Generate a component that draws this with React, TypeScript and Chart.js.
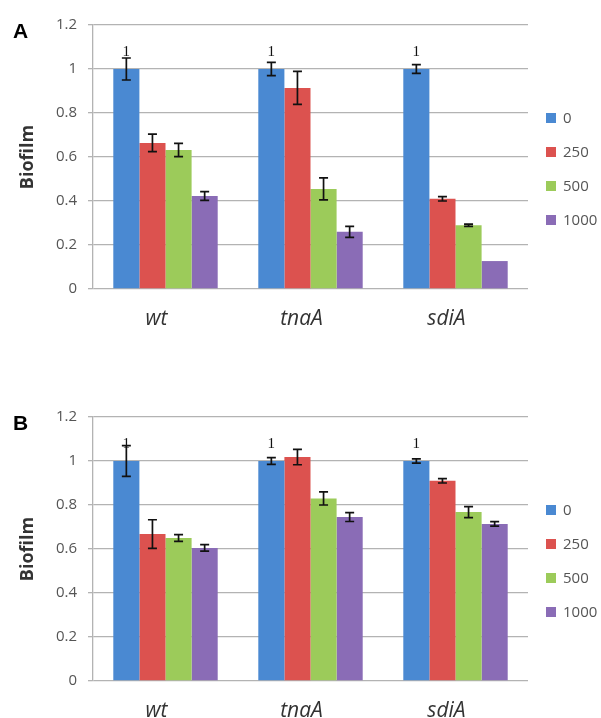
import React, { useEffect, useRef } from "react";
import { Chart, registerables } from "chart.js";

Chart.register(...registerables);

const categories = ["wt", "tnaA", "sdiA"];
const seriesLabels = ["0", "250", "500", "1000"];
const seriesColors = ["#4a89d2", "#dc524f", "#9ccb5a", "#8a6cb6"];
const yTicks = [0, 0.2, 0.4, 0.6, 0.8, 1, 1.2];

// Panel A values
const a0 = [1, 1, 1];
const a250 = [0.664, 0.914, 0.41];
const a500 = [0.632, 0.455, 0.29];
const a1000 = [0.423, 0.26, 0.127];
// Panel A error bars
const aErr0 = [0.05, 0.03, 0.02];
const aErr250 = [0.04, 0.075, 0.01];
const aErr500 = [0.03, 0.05, 0.005];
const aErr1000 = [0.02, 0.025, 0];

// Panel B values
const b0 = [1, 1, 1];
const b250 = [0.668, 1.018, 0.91];
const b500 = [0.65, 0.83, 0.768];
const b1000 = [0.605, 0.745, 0.714];
// Panel B error bars
const bErr0 = [0.07, 0.015, 0.01];
const bErr250 = [0.065, 0.035, 0.01];
const bErr500 = [0.015, 0.03, 0.025];
const bErr1000 = [0.015, 0.02, 0.01];

const FONT = "'Open Sans', 'Noto Sans', sans-serif";
const GRID = "#b3b3b3";

function makePlugins(letter: string, errors: number[][]) {
  const errorBars = {
    id: "errorBars",
    afterDatasetsDraw(chart: any) {
      const ctx = chart.ctx;
      const y = chart.scales.y;
      ctx.save();
      ctx.strokeStyle = "#111";
      ctx.lineWidth = 1.7;
      chart.data.datasets.forEach((ds: any, i: number) => {
        const meta = chart.getDatasetMeta(i);
        meta.data.forEach((bar: any, j: number) => {
          const v = ds.data[j];
          const e = errors[i][j];
          if (!e) return;
          const top = y.getPixelForValue(v + e);
          const bot = y.getPixelForValue(v - e);
          const x = bar.x;
          const cap = 4.5;
          ctx.beginPath();
          ctx.moveTo(x, top);
          ctx.lineTo(x, bot);
          ctx.moveTo(x - cap, top);
          ctx.lineTo(x + cap, top);
          ctx.moveTo(x - cap, bot);
          ctx.lineTo(x + cap, bot);
          ctx.stroke();
        });
      });
      // data labels on the first series
      const meta0 = chart.getDatasetMeta(0);
      ctx.fillStyle = "#111";
      ctx.font = "15px 'Liberation Serif', serif";
      ctx.textAlign = "center";
      ctx.textBaseline = "middle";
      meta0.data.forEach((bar: any, j: number) => {
        ctx.fillText(String(chart.data.datasets[0].data[j]), bar.x, bar.y - 17);
      });
      ctx.restore();
    },
  };
  const legendAndLetter = {
    id: "legendAndLetter",
    afterDraw(chart: any) {
      const ctx = chart.ctx;
      const area = chart.chartArea;
      ctx.save();
      // panel letter
      ctx.fillStyle = "#000";
      ctx.font = "bold 21px 'Liberation Sans', Arial, sans-serif";
      ctx.textAlign = "left";
      ctx.textBaseline = "middle";
      ctx.fillText(letter, 13, 32);
      // legend
      const x0 = area.right + 18;
      const yStart = 118;
      const step = 34;
      ctx.font = `15px ${FONT}`;
      chart.data.datasets.forEach((ds: any, i: number) => {
        const yy = yStart + i * step;
        ctx.fillStyle = ds.backgroundColor;
        ctx.fillRect(x0, yy - 5, 10, 10);
        ctx.fillStyle = "#555";
        ctx.fillText(ds.label, x0 + 17, yy + 1);
      });
      ctx.restore();
    },
  };
  return [errorBars, legendAndLetter];
}

function Panel(props: {
  letter: string;
  values: number[][];
  errors: number[][];
  height: number;
  top: number;
}) {
  const ref = useRef<HTMLCanvasElement | null>(null);
  useEffect(() => {
    if (!ref.current) return;
    const xAxisHeight = props.height - 289;
    const chart = new Chart(ref.current, {
      type: "bar",
      data: {
        labels: categories,
        datasets: seriesLabels.map((lab, i) => ({
          label: lab,
          data: props.values[i],
          backgroundColor: seriesColors[i],
          borderWidth: 0,
          categoryPercentage: 0.72,
          barPercentage: 1.0,
        })),
      },
      options: {
        responsive: false,
        animation: false,
        devicePixelRatio: 1,
        layout: { padding: { top: 25, right: 73, left: 0, bottom: 0 } },
        plugins: {
          legend: { display: false },
          tooltip: { enabled: false },
        },
        scales: {
          x: {
            grid: { display: false, drawTicks: false },
            border: { display: false },
            ticks: {
              color: "#333",
              padding: 17,
              labelOffset: -9,
              font: { family: FONT, size: 21, style: "italic" },
            },
            afterFit: (s: any) => {
              s.height = xAxisHeight;
            },
          },
          y: {
            min: 0,
            max: 1.2,
            afterBuildTicks: (s: any) => {
              s.ticks = yTicks.map((v) => ({ value: v }));
            },
            ticks: {
              color: "#555",
              padding: 11,
              font: { family: FONT, size: 15 },
              callback: (v: any) => Number(v).toFixed(1).replace(/\.0$/, ""),
            },
            grid: { color: GRID, lineWidth: 1.3, tickLength: 5 },
            border: { display: true, color: GRID, width: 1.3 },
            title: {
              display: true,
              text: "Biofilm",
              color: "#333",
              padding: { top: 17, bottom: 0 },
              font: { family: FONT, size: 18, weight: "bold" },
            },
            afterFit: (s: any) => {
              s.width = 93;
            },
          },
        },
      },
      plugins: makePlugins(props.letter, props.errors),
    } as any);
    return () => chart.destroy();
  }, []);
  return (
    <div style={{ position: "absolute", left: 0, top: props.top, width: 601, height: props.height }}>
      <canvas ref={ref} width={601} height={props.height} />
    </div>
  );
}

export default function App() {
  return (
    <div style={{ position: "absolute", left: 0, top: 0, width: 601, height: 718, background: "#fff" }}>
      <Panel
        letter="A"
        values={[a0, a250, a500, a1000]}
        errors={[aErr0, aErr250, aErr500, aErr1000]}
        height={345}
        top={0}
      />
      <Panel
        letter="B"
        values={[b0, b250, b500, b1000]}
        errors={[bErr0, bErr250, bErr500, bErr1000]}
        height={326}
        top={392}
      />
    </div>
  );
}
